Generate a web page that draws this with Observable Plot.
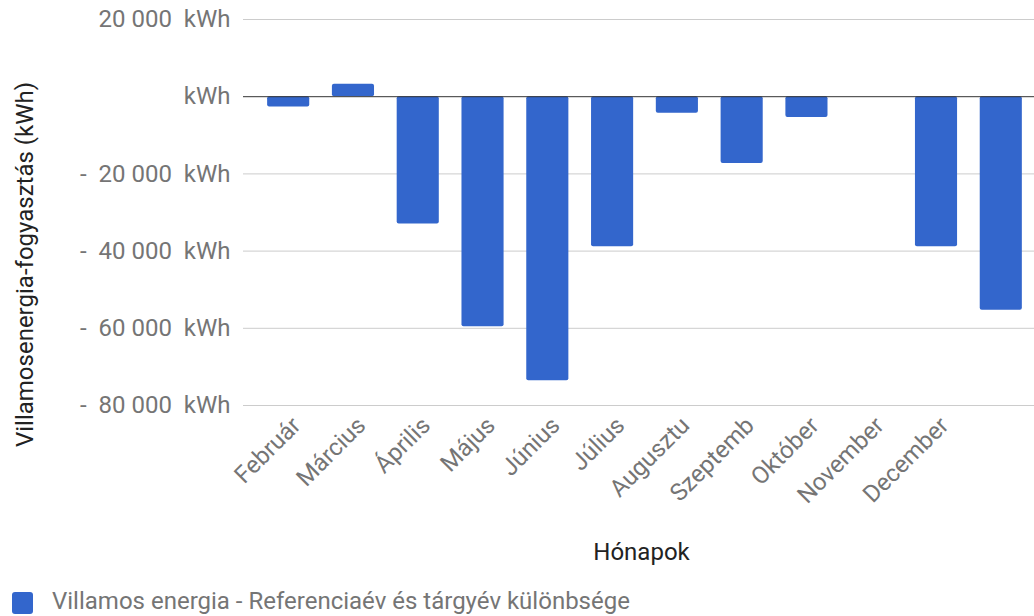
<!DOCTYPE html>
<html>
<head>
<meta charset="utf-8">
<script src="https://cdn.jsdelivr.net/npm/d3@7"></script>
<script src="https://cdn.jsdelivr.net/npm/@observablehq/plot@0.6"></script>
<style>
  html, body { margin: 0; padding: 0; background: #fff; }
  #chart { width: 1034px; }
  .legend { position: relative; height: 32px; font-family: Roboto, sans-serif; font-size: 24px; color: #757575; }
  .legend .sw { position: absolute; left: 12px; top: 8px; width: 21px; height: 22px; background: #3366cc; border-radius: 3px; }
  .legend .lt { position: absolute; left: 52px; top: 2px; line-height: 30px; white-space: pre; }
</style>
</head>
<body>
<div id="chart"></div>
<script>
const months = ["Február", "Március", "Április", "Május", "Június", "Július", "Augusztu", "Szeptemb", "Október", "November", "December", ""];
const values = [-2700, 3200, -33000, -59600, -73600, -38900, -4300, -17300, -5400, 0, -38900, -55300];
const yTicks = [20000, 0, -20000, -40000, -60000, -80000];
const yTickLabels = ["20 000  kWh", "kWh", "-  20 000  kWh", "-  40 000  kWh", "-  60 000  kWh", "-  80 000  kWh"];
const gridTicks = [20000, -20000, -40000, -60000, -80000];
const yTitle = "Villamosenergia-fogyasztás (kWh)";
const xTitle = "Hónapok";
const seriesName = "Villamos energia - Referenciaév és tárgyév különbsége";

const data = months.map((m, i) => ({month: m, value: values[i]}));
const nb = s => s.replace(/ /g, "\u00a0");
const fmtY = d => nb(yTickLabels[yTicks.indexOf(d)] ?? "");

const chart = Plot.plot({
  width: 1034,
  height: 584,
  marginLeft: 243,
  marginRight: 0,
  marginTop: 19,
  marginBottom: 179,
  style: {fontFamily: "Roboto, sans-serif", fontSize: "24px", color: "#757575", background: "#fff"},
  x: {domain: months, paddingInner: 0.35, paddingOuter: 0.28, align: 0.665, round: false},
  y: {domain: [-80000, 20000]},
  marks: [
    Plot.ruleY(gridTicks, {stroke: "#cccccc", strokeWidth: 1}),
    Plot.barY(data, {x: "month", y: "value", fill: "#3366cc", rx: 2}),
    Plot.ruleY([0], {stroke: "#333333", strokeWidth: 1}),
    Plot.axisY({ticks: yTicks, tickSize: 0, tickPadding: 13, tickFormat: fmtY, fontSize: 24, fill: "#757575", label: null}),
    Plot.axisX({tickSize: 0, tickRotate: -45, tickPadding: 16, dx: 8, fontSize: 24, fill: "#757575", label: null}),
    Plot.text([xTitle], {frameAnchor: "bottom", textAnchor: "middle", lineAnchor: "middle", dx: 2.5, dy: 147, fontSize: 24, fill: "#222222"}),
    Plot.text([yTitle], {frameAnchor: "left", textAnchor: "middle", lineAnchor: "middle", rotate: -90, dx: -218, dy: 52, fontSize: 24, fill: "#222222"})
  ]
});
document.getElementById("chart").appendChild(chart);

const legend = document.createElement("div");
legend.className = "legend";
legend.innerHTML = '<div class="sw"></div><div class="lt"></div>';
legend.querySelector(".lt").textContent = seriesName;
document.getElementById("chart").appendChild(legend);
</script>
</body>
</html>
